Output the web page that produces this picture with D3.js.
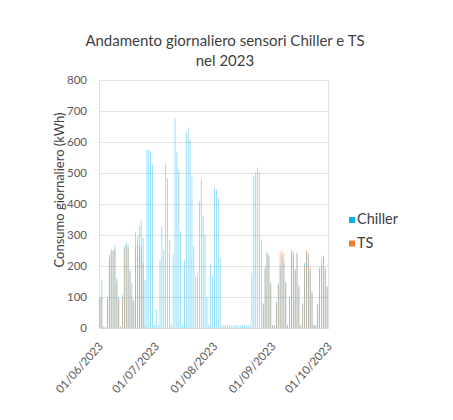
<!DOCTYPE html>
<html>
<head>
<meta charset="utf-8">
<script src="https://cdn.jsdelivr.net/npm/d3@7"></script>
<style>
  body { margin: 0; background: #fff; }
  text { font-family: Lato, "Open Sans", sans-serif; }
</style>
</head>
<body>
<div id="chart"></div>
<script>
// Daily values, 01/06/2023 .. 30/09/2023 (kWh)
var chiller = [
  100,155,5,5,100,235,255,250,268,160,100,5,107,262,275,270,188,145,90,308,295,330,347,290,155,
  576,573,570,527,10,
  60,10,220,328,252,530,483,285,10,236,676,566,511,312,10,220,631,647,608,490,263,166,178,409,479,360,301,101,10,204,166,
  452,447,421,227,8,8,8,8,8,8,8,8,8,8,8,8,8,8,8,8,178,489,505,518,502,285,
  80,197,240,236,146,10,10,84,145,200,236,210,145,10,100,252,246,188,236,133,10,80,210,246,236,188,113,10,10,80,197,200,230,188,133
];
var ts = [
  95,100,2,2,95,225,245,250,255,150,90,3,100,255,265,260,180,100,85,260,270,265,260,210,5,
  0,0,0,0,0,
  0,0,0,0,0,0,0,0,0,0,0,0,0,0,0,0,0,0,0,0,0,0,0,0,0,0,0,0,0,0,0,
  0,0,0,0,0,0,0,0,0,0,0,0,0,0,0,0,0,0,0,0,0,0,0,0,0,0,
  75,190,246,230,140,8,8,80,140,246,250,240,150,8,95,245,240,190,245,140,8,75,200,250,245,200,120,8,8,75,190,230,235,195,135
];
var seriesNames = ['Chiller', 'TS'];
var seriesColors = ['#00B0F0', '#ED7D31'];
var yTicks = [0, 100, 200, 300, 400, 500, 600, 700, 800];
var xTickLabels = ['01/06/2023', '01/07/2023', '01/08/2023', '01/09/2023', '01/10/2023'];

var w = 453, h = 420;
var parseDate = d3.timeParse('%d/%m/%Y');
var days = d3.timeDay.range(parseDate('01/06/2023'), parseDate('01/10/2023'));

var svg = d3.select('#chart').append('svg')
  .attr('width', w)
  .attr('height', h);

var x = d3.scaleTime()
  .domain([parseDate('01/06/2023'), parseDate('01/10/2023')])
  .range([99, 328]);
var y = d3.scaleLinear().domain([0, 800]).range([328, 80]);

var dayW = x(days[1]) - x(days[0]);
var barW = 0.8;

// gridlines
svg.append('g')
  .selectAll('line')
  .data(yTicks)
  .enter().append('line')
  .attr('x1', 99).attr('x2', 328)
  .attr('y1', function(d) { return Math.round(y(d)) + 0.5; })
  .attr('y2', function(d) { return Math.round(y(d)) + 0.5; })
  .attr('stroke', '#e3e3e3')
  .attr('stroke-width', 1);

// plot border
svg.append('rect')
  .attr('x', 99.5).attr('y', 80.5)
  .attr('width', 229).attr('height', 248)
  .attr('fill', 'none')
  .attr('stroke', '#e3e3e3');

// bars: at this size the two daily bars share one pixel column, so blend them
[chiller, ts].forEach(function(vals, i) {
  svg.append('g')
    .selectAll('rect')
    .data(vals)
    .enter().append('rect')
    .attr('x', function(d, j) { return x(days[j]) + dayW / 2 - barW / 2; })
    .attr('width', barW)
    .attr('y', function(d) { return y(d); })
    .attr('height', function(d) { return y(0) - y(d); })
    .attr('fill', seriesColors[i])
    .attr('fill-opacity', 0.5);
});

// y axis
var yAxis = svg.append('g')
  .attr('transform', 'translate(99,0)')
  .call(d3.axisLeft(y).tickValues(yTicks).tickSize(0).tickPadding(12));
yAxis.select('.domain').remove();
yAxis.selectAll('text')
  .attr('fill', '#595959')
  .style('font-size', '11.5px')
  .style('font-family', 'Lato, sans-serif');

// x axis labels
var xAxis = svg.append('g')
  .attr('transform', 'translate(0,328)')
  .call(d3.axisBottom(x)
    .tickValues(xTickLabels.map(parseDate))
    .tickSize(0)
    .tickFormat(d3.timeFormat('%d/%m/%Y')));
xAxis.select('.domain').attr('stroke', '#d9d9d9');
xAxis.selectAll('text')
  .attr('fill', '#595959')
  .style('font-size', '11.5px')
  .style('font-family', 'Lato, sans-serif')
  .attr('text-anchor', 'end')
  .attr('dy', '0.35em')
  .attr('transform', 'translate(-1,14) rotate(-48)');

// titles
svg.append('text')
  .attr('x', 225).attr('y', 46)
  .attr('text-anchor', 'middle')
  .attr('fill', '#404040')
  .style('font-size', '15px')
  .text('Andamento giornaliero sensori Chiller e TS');
svg.append('text')
  .attr('x', 225).attr('y', 66)
  .attr('text-anchor', 'middle')
  .attr('fill', '#404040')
  .style('font-size', '15px')
  .text('nel 2023');

svg.append('text')
  .attr('transform', 'translate(64,190) rotate(-90)')
  .attr('text-anchor', 'middle')
  .attr('fill', '#404040')
  .style('font-size', '13px')
  .text('Consumo giornaliero (kWh)');

// legend
var legend = svg.append('g')
  .selectAll('g')
  .data(seriesNames)
  .enter().append('g')
  .attr('transform', function(d, i) { return 'translate(349,' + (217 + i * 23.5) + ')'; });
legend.append('rect')
  .attr('width', 6).attr('height', 6)
  .attr('fill', function(d, i) { return seriesColors[i]; });
legend.append('text')
  .attr('x', 8).attr('y', 7)
  .attr('fill', '#404040')
  .style('font-size', '14.5px')
  .text(function(d) { return d; });
</script>
</body>
</html>
